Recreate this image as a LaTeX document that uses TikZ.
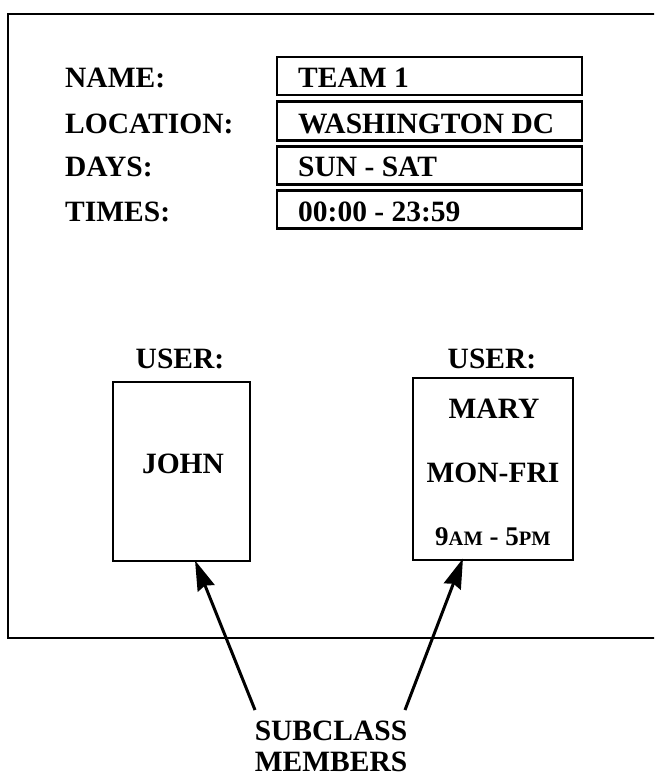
\documentclass[tikz,border=0pt]{standalone}
\usepackage{fontspec}
\setmainfont{Liberation Serif}
\usetikzlibrary{arrows.meta}
\newcommand\smallcapsfake[1]{{\fontsize{20.5}{21}\selectfont #1}}
\begin{document}
\begin{tikzpicture}[x=1pt,y=-1pt,
  txt/.style={font=\fontsize{29.5}{30}\selectfont\bfseries, inner sep=0pt},
  valbox/.style={draw, line width=2.8pt, minimum width=305pt, minimum height=38pt, inner sep=0pt},
  userbox/.style={draw, line width=2.8pt, inner sep=0pt},
  pointer/.style={line width=3pt, -{Stealth[length=30pt,width=18pt,inset=3pt]}}]
\useasboundingbox (0,0) rectangle (654,776);
\clip (0,0) rectangle (654,776);
\fill[white] (0,0) rectangle (654,776);

% outer frame, open to the right
\draw[line width=2.8pt] (670,14) -- (8,14) -- (8,638) -- (670,638);

% attribute labels
\node[txt, anchor=base west] (lname) at (65,88) {NAME:};
\node[txt, anchor=base west] (lloc)  at (65,133) {LOCATION:};
\node[txt, anchor=base west] (ldays) at (65,176) {DAYS:};
\node[txt, anchor=base west] (ltime) at (65,221) {TIMES:};

% value boxes
\node[valbox, minimum height=38pt] (vname) at (429.5,76) {};
\node[valbox, minimum height=39pt] (vloc)  at (429.5,121) {};
\node[valbox, minimum height=38pt] (vdays) at (429.5,165.5) {};
\node[valbox, minimum height=38pt] (vtime) at (429.5,209.5) {};
\node[txt, anchor=base west] (tname) at (298,88) {TEAM 1};
\node[txt, anchor=base west] (tloc)  at (298,133) {WASHINGTON DC};
\node[txt, anchor=base west] (tdays) at (298,176) {SUN - SAT};
\node[txt, anchor=base west] (ttime) at (298,221) {00:00 - 23:59};

% user members
\node[userbox, minimum width=137pt, minimum height=179pt] (john) at (181.5,471.5) {};
\node[userbox, minimum width=160pt, minimum height=182pt] (mary) at (493,469) {};
\node[txt, anchor=base] (ujohn) at (180,368) {USER:};
\node[txt, anchor=base] (umary) at (492,368) {USER:};
\node[txt, anchor=base] (njohn) at (183,473) {JOHN};
\node[txt, anchor=base] (nmary) at (494,418) {MARY};
\node[txt, anchor=base] (dmary) at (493,482) {MON-FRI};
\node[txt, anchor=base, font=\fontsize{27}{28}\selectfont\bfseries] (hmary) at (493,545)
  {9\smallcapsfake{AM} - 5\smallcapsfake{PM}};

% caption and pointers
\node[txt, anchor=base] (sub) at (331,740) {SUBCLASS};
\node[txt, anchor=base] (mem) at (331,771) {MEMBERS};
\coordinate (tailL) at (255,710);
\coordinate (tailR) at (405,710);
\draw[pointer] (tailL) -- ([xshift=13.5pt,yshift=2pt]john.south);
\draw[pointer] (tailR) -- ([xshift=-30pt,yshift=3pt]mary.south);
\end{tikzpicture}
\end{document}
